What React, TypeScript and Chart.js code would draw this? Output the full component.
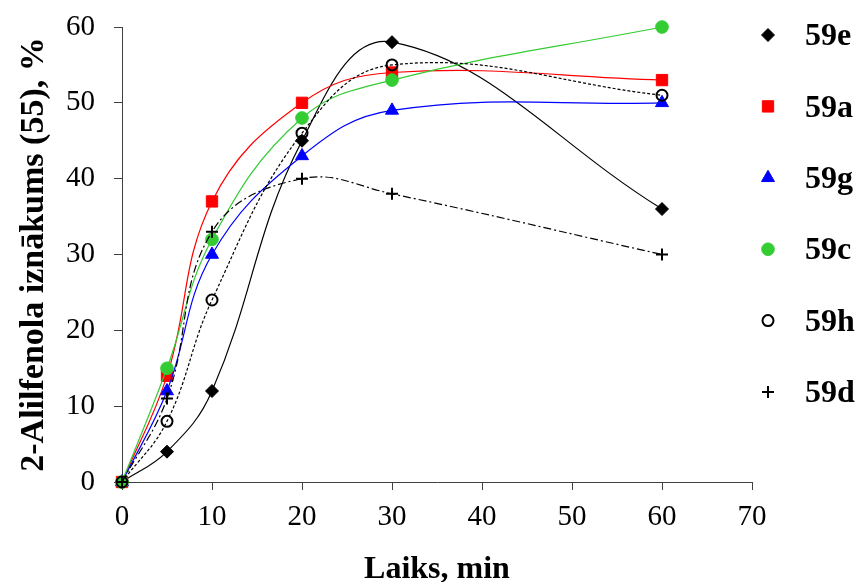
import React, { useEffect, useRef } from 'react';
import { Chart, registerables } from 'chart.js';
import { drawPoint } from 'chart.js/helpers';

Chart.register(...registerables);

// ---- data ----
const times = [0, 5, 10, 20, 30, 60];
const seriesNames = ['59e', '59a', '59g', '59c', '59h', '59d'];
const s59e = [0, 4, 12, 45, 58, 36];
const s59a = [0, 14, 37, 50, 54, 53];
const s59g = [0, 12, 30, 43, 49, 50];
const s59c = [0, 15, 32, 48, 53, 60];
const s59h = [0, 8, 24, 46, 55, 51];
const s59d = [0, 11, 33, 40, 38, 30];
const xTitle = 'Laiks, min';
const yTitle = '2-Alilfenola iznākums (55), %';
const xMin = 0, xMax = 70, xStep = 10;
const yMin = 0, yMax = 60, yStep = 10;

const FONT = '"Liberation Serif", "Times New Roman", serif';

const styles = [
  { color: '#000000', fill: '#000000', point: 'rectRot', radius: 6.5, pbw: 1, dash: [] as number[] },
  { color: '#FF0000', fill: '#FF0000', point: 'rect', radius: 8, pbw: 1, dash: [] as number[] },
  { color: '#0000FF', fill: '#0000FF', point: 'triangle', radius: 7.5, pbw: 1, dash: [] as number[] },
  { color: '#33CC33', fill: '#33CC33', point: 'circle', radius: 6.3, pbw: 1, dash: [] as number[] },
  { color: '#000000', fill: 'rgba(0,0,0,0)', point: 'circle', radius: 5.5, pbw: 2, dash: [3, 2] },
  { color: '#000000', fill: '#000000', point: 'cross', radius: 6, pbw: 2, dash: [8, 3, 2, 3] },
];

const seriesValues = [s59e, s59a, s59g, s59c, s59h, s59d];

const sideLegend = {
  id: 'sideLegend',
  afterDraw(chart: any) {
    const { ctx, chartArea } = chart;
    ctx.save();
    chart.data.datasets.forEach((ds: any, i: number) => {
      const y = chartArea.top + 8 + i * 71.4;
      const mx = chartArea.right + 16;
      ctx.setLineDash([]);
      ctx.fillStyle = ds.pointBackgroundColor;
      ctx.strokeStyle = ds.pointBorderColor;
      ctx.lineWidth = ds.pointBorderWidth;
      drawPoint(ctx, { pointStyle: ds.pointStyle, radius: ds.pointRadius, borderWidth: ds.pointBorderWidth, rotation: 0 } as any, mx, y);
      ctx.fillStyle = '#000';
      ctx.font = 'bold 32px ' + FONT;
      ctx.textBaseline = 'middle';
      ctx.textAlign = 'left';
      ctx.fillText(ds.label, chartArea.right + 53, y + 2);
    });
    ctx.restore();
  },
};

export default function App() {
  const ref = useRef<HTMLCanvasElement>(null);
  useEffect(() => {
    if (!ref.current) return;
    const datasets = seriesNames.map((name, i) => {
      const st = styles[i];
      return {
        label: name,
        data: times.map((t, j) => ({ x: t, y: seriesValues[i][j] })),
        borderColor: st.color,
        backgroundColor: st.fill,
        borderWidth: 1.2,
        borderDash: st.dash,
        pointStyle: st.point,
        pointRadius: st.radius,
        pointHoverRadius: st.radius,
        pointBackgroundColor: st.fill,
        pointBorderColor: st.color,
        pointBorderWidth: st.pbw,
        tension: 0.4,
        fill: false,
        clip: false,
        order: seriesNames.length - i,
      };
    });
    const chart = new Chart(ref.current, {
      type: 'line',
      data: { datasets },
      plugins: [sideLegend],
      options: {
        responsive: false,
        animation: false,
        devicePixelRatio: 1,
        layout: { padding: { left: 14, top: 27, right: 105, bottom: 0 } },
        plugins: { legend: { display: false }, tooltip: { enabled: false } },
        scales: {
          x: {
            type: 'linear',
            min: xMin,
            max: xMax,
            afterFit: (s: any) => { s.height = 100; },
            ticks: { stepSize: xStep, color: '#000', font: { family: FONT, size: 29 }, padding: 10 },
            grid: { drawOnChartArea: false, drawTicks: true, tickLength: 8, color: '#404040' },
            border: { display: true, color: '#404040', width: 1 },
            title: { display: true, text: xTitle, color: '#000', font: { family: FONT, size: 32, weight: 'bold', lineHeight: 1 }, padding: { top: 9, bottom: -4 } },
          },
          y: {
            type: 'linear',
            min: yMin,
            max: yMax,
            afterFit: (s: any) => { s.width = 108; s.paddingTop = 0; s.paddingBottom = 0; },
            ticks: { stepSize: yStep, color: '#000', font: { family: FONT, size: 29 }, padding: 19 },
            grid: { drawOnChartArea: false, drawTicks: true, tickLength: 8, color: '#404040' },
            border: { display: true, color: '#404040', width: 1 },
            title: { display: true, text: yTitle, color: '#000', font: { family: FONT, size: 34, weight: 'bold' }, padding: { top: 0, bottom: 0 } },
          },
        },
      } as any,
    });
    return () => chart.destroy();
  }, []);
  return (
    <div style={{ position: 'absolute', left: 0, top: 0, width: 857, height: 582, background: '#fff' }}>
      <canvas ref={ref} width={857} height={582} style={{ display: 'block' }} />
    </div>
  );
}
